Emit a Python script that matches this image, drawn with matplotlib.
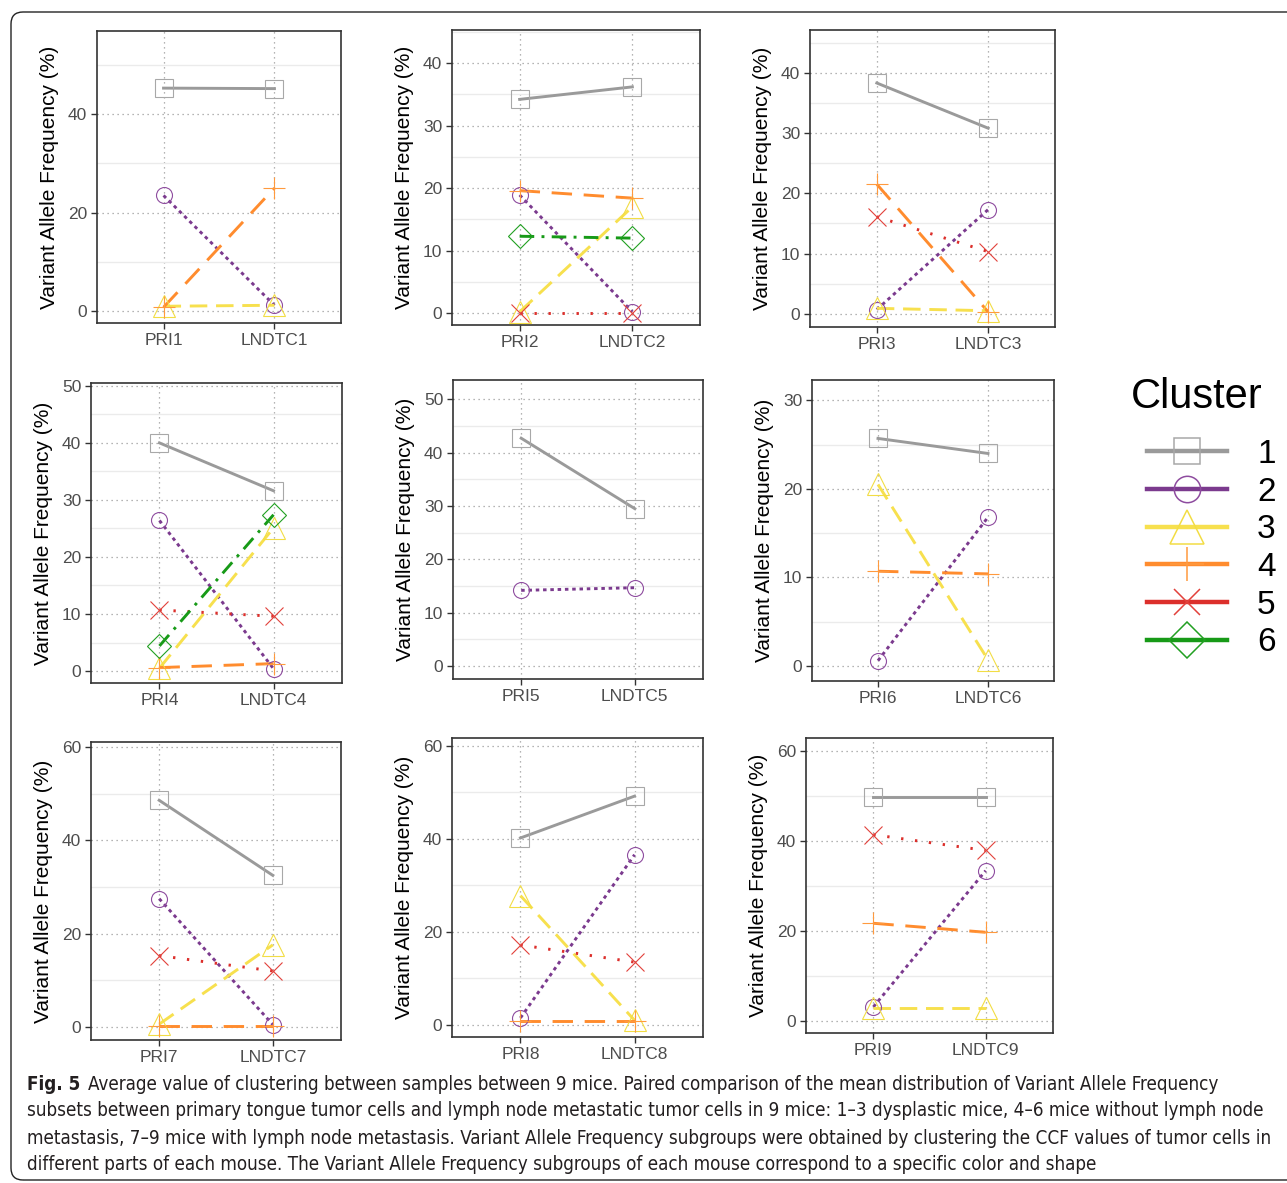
import matplotlib
matplotlib.use('Agg')
import matplotlib.pyplot as plt
from matplotlib.lines import Line2D
from matplotlib.patches import FancyBboxPatch
from matplotlib.transforms import IdentityTransform
from matplotlib.ticker import MultipleLocator
from matplotlib import font_manager

plt.rcParams['font.family'] = ['Liberation Sans', 'DejaVu Sans']

W, H = 1287, 1183

samples = ['PRI', 'LNDTC']
clusters = [1, 2, 3, 4, 5, 6]

# mean VAF (%) per cluster: [PRI, LNDTC]
mouse1 = {1: [45.3, 45.2], 2: [23.5, 1.2], 3: [1.0, 1.2], 4: [0.8, 25.0]}
mouse2 = {1: [34.2, 36.2], 2: [18.9, 0.2], 3: [0.2, 17.0], 4: [19.6, 18.4],
          5: [0.1, 0.1], 6: [12.3, 12.0]}
mouse3 = {1: [38.3, 30.8], 2: [0.7, 17.3], 3: [0.9, 0.5], 4: [21.5, 0.3],
          5: [16.1, 10.3]}
mouse4 = {1: [40.0, 31.6], 2: [26.4, 0.4], 3: [0.5, 25.1], 4: [0.6, 1.3],
          5: [10.7, 9.6], 6: [4.4, 27.4]}
mouse5 = {1: [42.7, 29.5], 2: [14.2, 14.7]}
mouse6 = {1: [25.7, 24.0], 2: [0.6, 16.8], 3: [20.5, 0.7], 4: [10.7, 10.4]}
mouse7 = {1: [48.6, 32.5], 2: [27.5, 0.5], 3: [0.6, 17.6], 4: [0.3, 0.3],
          5: [15.3, 12.0]}
mouse8 = {1: [40.2, 49.2], 2: [1.5, 36.6], 3: [27.8, 1.0], 4: [0.9, 0.9],
          5: [17.2, 13.5]}
mouse9 = {1: [49.8, 49.8], 2: [3.1, 33.4], 3: [2.9, 2.9], 4: [21.7, 19.7],
          5: [41.4, 37.9]}
mice = [mouse1, mouse2, mouse3, mouse4, mouse5, mouse6, mouse7, mouse8, mouse9]

# axis limits and major tick step of each panel
ylims = [(-2.4, 56.9), (-1.9, 45.3), (-2.2, 47.1),
         (-2.1, 50.5), (-2.4, 53.6), (-1.7, 32.3),
         (-2.8, 61.1), (-2.6, 61.7), (-2.7, 62.9)]
ysteps = [20, 10, 10, 10, 10, 10, 20, 20, 20]

# panel boxes in pixels (x0, y0, x1, y1), y from top
boxes = [(97, 31, 341, 323), (452, 30, 700, 325), (810, 30, 1055, 327),
         (91, 383, 342, 683), (453, 380, 703, 679), (812, 380, 1054, 681),
         (91, 742, 341, 1040), (452, 738, 703, 1037), (806, 738, 1053, 1033)]

line_col = {1: '#9a9a9a', 2: '#7b3a8e', 3: '#f7e04e', 4: '#ff8c2e',
            5: '#dc2f2b', 6: '#179a17'}
mark_col = {1: '#a8a8a8', 2: '#8e4c9f', 3: '#f2dd45', 4: '#ff9a3e',
            5: '#e2413b', 6: '#22a022'}
markers = {1: 's', 2: 'o', 3: '^', 4: '+', 5: 'x', 6: 'D'}
msize = {1: 13, 2: 11.5, 3: 16, 4: 16.5, 5: 13, 6: 12}
lsize = {1: 18.5, 2: 19, 3: 25, 4: 25, 5: 18.5, 6: 18}
styles = {1: '-', 2: (0, (1.2, 1.3)), 3: (0, (6, 3)), 4: (0, (7, 4)),
          5: (0, (0.8, 4)), 6: (0, (5, 2.5, 1, 2.5))}

fig = plt.figure(figsize=(W / 100, H / 100), dpi=100)

for i, (data, lim, step, box) in enumerate(zip(mice, ylims, ysteps, boxes)):
    x0, y0, x1, y1 = box
    ax = fig.add_axes([x0 / W, 1 - y1 / H, (x1 - x0) / W, (y1 - y0) / H])
    ax.set_axisbelow(True)
    xs = [1, 2]
    for c, vals in data.items():
        ax.plot(xs, vals, color=line_col[c], lw=2.1, ls=styles[c], zorder=2)
        ax.plot(xs, vals, ls='none', marker=markers[c], ms=msize[c],
                mfc='none', mec=mark_col[c], mew=0.8, zorder=3)
    ax.set_xlim(0.4, 2.6)
    ax.set_ylim(*lim)
    ax.set_xticks(xs)
    ax.set_xticklabels([f'{s}{i + 1}' for s in samples])
    ax.yaxis.set_major_locator(MultipleLocator(step))
    ax.yaxis.set_minor_locator(MultipleLocator(step / 2))
    ax.grid(which='major', axis='both', ls=(0, (1, 3)), color='#9c9c9c', lw=0.9)
    ax.grid(which='minor', axis='y', ls='-', color='#ebebeb', lw=1.0)
    ax.tick_params(which='minor', length=0)
    ax.tick_params(which='major', direction='out', length=4, width=1,
                   color='#333333', labelcolor='#4d4d4d', labelsize=12.5, pad=3)
    for sp in ax.spines.values():
        sp.set_color('#333333')
        sp.set_linewidth(1.2)
    ax.set_ylabel('Variant Allele Frequency (%)', fontsize=15, color='black')
    ax.yaxis.set_label_coords(-38 / (x1 - x0), 0.5)

handles = [Line2D([], [], color=line_col[c], lw=3.2, marker=markers[c],
                  ms=lsize[c], mfc='none', mec=mark_col[c], mew=1.1)
           for c in clusters]
fig.legend(handles, [str(c) for c in clusters],
           loc='upper left', bbox_to_anchor=(1147 / W, 1 - 439 / H),
           frameon=False, fontsize=24,
           handlelength=2.4, handletextpad=0.9, labelspacing=0.2,
           borderpad=0, borderaxespad=0)
fig.text(1197 / W, 1 - 397 / H, 'Cluster', fontsize=30, ha='center', va='center')

# rounded frame round the figure and its caption
fig.patches.append(FancyBboxPatch((11, H - 1180), 1400, 1168,
                                  boxstyle='round,pad=0,rounding_size=12',
                                  transform=IdentityTransform(), fill=False,
                                  ec='#222222', lw=1.0))

names = {f.name for f in font_manager.fontManager.ttflist}
cap_font = ['Liberation Sans Narrow'] if 'Liberation Sans Narrow' in names else ['DejaVu Sans']
cap_kw = dict(family=cap_font, stretch='condensed', color='#231f20',
              va='center', ha='left')
cap_lines = [
    'Average value of clustering between samples between 9 mice. Paired comparison of the mean distribution of Variant Allele Frequency',
    'subsets between primary tongue tumor cells and lymph node metastatic tumor cells in 9 mice: 1\u20133 dysplastic mice, 4\u20136 mice without lymph node',
    'metastasis, 7\u20139 mice with lymph node metastasis. Variant Allele Frequency subgroups were obtained by clustering the CCF values of tumor cells in',
    'different parts of each mouse. The Variant Allele Frequency subgroups of each mouse correspond to a specific color and shape',
]
cap_y = [1084, 1111, 1138, 1164]
cap_x = [88, 27, 27, 27]

fig.canvas.draw()
r = fig.canvas.get_renderer()
probe = fig.text(27 / W, 1 - 1111 / H, cap_lines[1], fontsize=14, **cap_kw)
fs = 14 * (1271 - 27) / probe.get_window_extent(r).width
probe.remove()

fig.text(27 / W, 1 - cap_y[0] / H, 'Fig. 5', fontsize=fs, weight='bold', **cap_kw)
for txt, x, y in zip(cap_lines, cap_x, cap_y):
    fig.text(x / W, 1 - y / H, txt, fontsize=fs, **cap_kw)

fig.savefig('out.png', dpi=100)
